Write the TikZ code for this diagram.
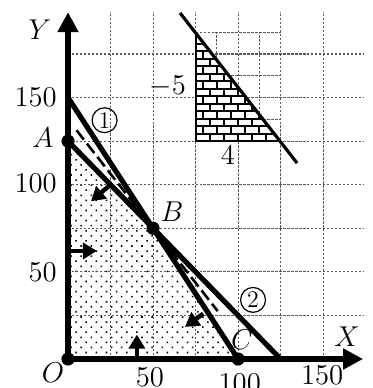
\documentclass[tikz,border=0pt]{standalone}
\usepackage{amsmath, amssymb}
\usetikzlibrary{arrows.meta,patterns.meta}

\begin{document}
\begin{tikzpicture}[
        x=0.03cm, y=0.03075cm,
        every node/.style={font=\fontsize{15.5}{17}\selectfont},
        gridline/.style={black!65, line width=0.55pt, dash pattern=on 1.2pt off 0.8pt},
        axis/.style={line width=3pt, -{Triangle[width=10pt,length=10pt]}},
        bound/.style={line width=2.6pt},
        objline/.style={line width=1.3pt, dash pattern=on 6pt off 2.5pt},
        normarrow/.style={line width=2.2pt, -{Triangle[width=8pt,length=7pt]}},
        brick/.style={line width=1pt},
        numlabel/.style={circle, draw, line width=0.6pt, inner sep=0.8pt, minimum size=12.5pt, font=\fontsize{12}{13}\selectfont},
      ]
      \useasboundingbox (-40,-16.64) rectangle (178.82,205.97);

      % key points
      \coordinate (O) at (0,0);
      \coordinate (A) at (0,125);
      \coordinate (B) at (50,75);
      \coordinate (C) at (100,0);
      \coordinate (Y150) at (0,150);
      \coordinate (X125) at (125,0);
      \coordinate (ytip) at (0,199);
      \coordinate (xtip) at (173.5,0);

      % feasible region
      \fill[pattern={Dots[distance=3.6pt,angle=45,radius=0.55pt]}] (O) -- (C) -- (B) -- (A) -- cycle;

      % grid
      \foreach \gx in {25,50,...,150} \draw[gridline] (\gx,0) -- (\gx,199);
      \foreach \gy in {25,50,...,175} \draw[gridline] (0,\gy) -- (174,\gy);

      % inset: fine grid and bricks
      \foreach \gx in {87.5,112.5} \draw[gridline] (\gx,125) -- (\gx,187.5);
      \foreach \gy in {137.5,162.5,187.5} \draw[gridline] (75,\gy) -- (125,\gy);
      \fill[white] (75,187.5) -- (75,125) -- (125,125) -- cycle;
      \begin{scope}
        \clip (75,187.5) -- (75,125) -- (125,125) -- cycle;
        \foreach \r in {0,...,14} {
          \draw[brick] (75,125+\r*4.3) -- (125,125+\r*4.3);
          \foreach \k in {0,...,6}
            \draw[brick] ({75+\k*8.333+mod(\r,2)*4.167},{125+\r*4.3}) -- ++(0,4.3);
        }
      \end{scope}
      \draw[brick] (75,187.5) -- (75,125) -- (125,125);
      \coordinate (s1) at (65.9,198.5);
      \coordinate (s2) at (134.7,112.4);
      \draw[line width=1.6pt] (s1) -- (s2);
      \node[anchor=east] (m5) at (73.5,156.5) {$-5$};
      \node (m4) at (94,117) {$4$};

      % constraint lines and objective line
      \draw[bound] (Y150) -- (C);
      \draw[bound] (A) -- (X125);
      \coordinate (d1) at (5,131.25);
      \coordinate (d2) at (88,27.5);
      \draw[objline] (d1) -- (d2);

      % axes
      \draw[axis] (O) -- (ytip);
      \draw[axis] (O) -- (xtip);

      % direction arrows
      \draw[normarrow] (0,62) -- (17,62);
      \draw[normarrow] (40.5,0) -- (40.5,14);
      \draw[normarrow] (25,100) -- (13.5,90.5);
      \draw[normarrow] (79.5,26) -- (68.8,18.4);

      % vertices
      \foreach \p in {O,A,B,C} \fill (\p) circle[radius=3.3pt];

      % labels
      \node (ylab) at (-16.5,188.8) {$Y$};
      \node (xlab) at (164,12.6) {$X$};
      \node (olab) at (-8.8,-8) {$O$};
      \node (alab) at (-14.7,126.8) {$A$};
      \node (blab) at (61.2,84.3) {$B$};
      \node (clab) at (102.4,10.9) {$C$};
      \node[anchor=east] (y150) at (-2.5,150) {$150$};
      \node[anchor=east] (y100) at (-2.5,101) {$100$};
      \node[anchor=east] (y50) at (-2.5,50) {$50$};
      \node (x50) at (48.2,-10.3) {$50$};
      \node (x100) at (101,-13.8) {$100$};
      \node (x150) at (149.4,-9.2) {$150$};
      \node[numlabel] (n1) at (21.5,137) {1};
      \node[numlabel] (n2) at (108.8,33.9) {2};
    \end{tikzpicture}
\end{document}
